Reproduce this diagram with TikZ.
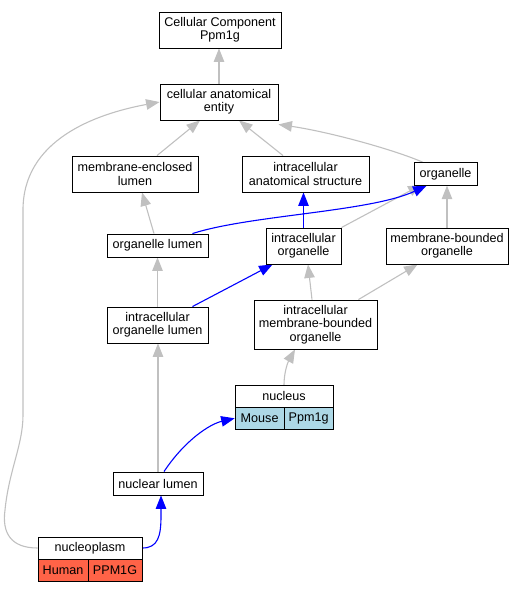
\documentclass[tikz,border=0pt]{standalone}
\usepackage{fontspec}
\setmainfont{Liberation Sans}
\usetikzlibrary{arrows.meta,calc}
\definecolor{edgegray}{HTML}{C0C0C0}
\definecolor{humanred}{HTML}{FF6347}
\definecolor{mouseblue}{HTML}{ADD8E6}
\tikzset{
  box/.style={draw=black, line width=0.85pt, fill=white, inner sep=0pt, align=center,
    font=\fontsize{12.6}{13.3}\selectfont},
  grayedge/.style={draw=edgegray, line width=1.1pt, -{Triangle[length=13.5pt,width=10.5pt]}},
  blueedge/.style={draw=blue, line width=1.1pt, -{Triangle[length=13.5pt,width=10.5pt]}},
}
\begin{document}
\begin{tikzpicture}[x=1pt,y=-1pt]
\useasboundingbox (0,0) rectangle (529,592);
% nodes (placed first for names, redrawn on top later)
\begin{scope}[every node/.style={box}]
\node[minimum width=122pt, minimum height=36pt] (ccp) at (220,30) {Cellular Component\\Ppm1g};
\node[minimum width=118pt, minimum height=36pt] (cae) at (219,102) {cellular anatomical\\entity};
\node[minimum width=126pt, minimum height=36pt] (mel) at (135,174) {membrane-enclosed\\lumen};
\node[minimum width=127pt, minimum height=36pt] (ias) at (305.5,174) {intracellular\\anatomical structure};
\node[minimum width=63pt, minimum height=22.5pt] (org) at (445.5,174) {organelle};
\node[minimum width=101pt, minimum height=23pt] (ol) at (157.5,245.5) {organelle lumen};
\node[minimum width=75pt, minimum height=36pt] (io) at (303.5,246) {intracellular\\organelle};
\node[minimum width=122pt, minimum height=36pt] (mbo) at (447,246) {membrane-bounded\\organelle};
\node[minimum width=101pt, minimum height=36pt] (iol) at (157.5,325) {intracellular\\organelle lumen};
\node[minimum width=123pt, minimum height=49pt] (imbo) at (315.5,324.5) {intracellular\\membrane-bounded\\organelle};
\node[minimum width=98pt, minimum height=22pt] (nuc) at (284,396.3) {nucleus};
\node[minimum width=49pt, minimum height=22pt, fill=mouseblue] (mouse) at (259.6,418.3) {Mouse};
\node[minimum width=49pt, minimum height=22pt, fill=mouseblue] (mppm) at (308.6,418.3) {Ppm1g};
\node[minimum width=90pt, minimum height=23pt] (nl) at (158,483.5) {nuclear lumen};
\node[minimum width=104pt, minimum height=22pt] (npl) at (90,548) {nucleoplasm};
\node[minimum width=50pt, minimum height=22pt, fill=humanred] (human) at (63,570) {Human};
\node[minimum width=54pt, minimum height=22pt, fill=humanred] (hppm) at (115,570) {PPM1G};
\end{scope}
% gray edges
\draw[grayedge] (cae.north) -- (cae.north |- ccp.south);
\draw[grayedge] ([xshift=22pt]mel.north) -- ([xshift=-19pt]cae.south);
\draw[grayedge] ([xshift=-22.5pt]ias.north) -- ([xshift=20pt]cae.south);
\draw[grayedge] ([xshift=-22.5pt]org.north) .. controls (395,150) and (330,132) .. ([yshift=-4pt]cae.south east);
\draw[grayedge] (npl.west) .. controls (10,548) and (2,532) .. (5,510)
   .. controls (9,470) and (23,445) .. (23,415) -- (23,210)
   .. controls (23,140) and (95,114) .. (cae.west);
\draw[grayedge] ([xshift=-3.5pt]ol.north) -- ([xshift=7pt]mel.south);
\draw[grayedge] (io.north east) -- ([xshift=8pt,yshift=1pt]org.south west);
\draw[grayedge] (mbo.north) -- (mbo.north |- org.south);
\draw[grayedge] (iol.north) -- (ol.south);
\draw[grayedge] ([xshift=-3.5pt]imbo.north) -- ([xshift=4.5pt]io.south);
\draw[grayedge] ([xshift=-19pt]imbo.north east) -- ([xshift=32pt]mbo.south west);
\draw[grayedge] (nuc.north) .. controls (284,372) and (288,362) .. ([xshift=-20.5pt]imbo.south);
\draw[grayedge] (nl.north) -- (nl.north |- iol.south);
% blue edges
\draw[blueedge] ([xshift=-16pt]ol.north east) .. controls (250,215) and (370,212) .. ([xshift=13pt]org.south west);
\draw[blueedge] (io.north) -- (io.north |- ias.south);
\draw[blueedge] ([xshift=-16pt]iol.north east) -- ([xshift=7pt]io.south west);
\draw[blueedge] ([xshift=6pt]nl.north) .. controls (185,440) and (210,424) .. (mouse.west);
\draw[blueedge] (npl.east) .. controls (158,548) and (161,536) .. (161,516) -- ([xshift=3pt]nl.south);
% redraw nodes on top
\begin{scope}[every node/.style={box}]
\node[minimum width=122pt, minimum height=36pt] at (220,30) {Cellular Component\\Ppm1g};
\node[minimum width=118pt, minimum height=36pt] at (219,102) {cellular anatomical\\entity};
\node[minimum width=126pt, minimum height=36pt] at (135,174) {membrane-enclosed\\lumen};
\node[minimum width=127pt, minimum height=36pt] at (305.5,174) {intracellular\\anatomical structure};
\node[minimum width=63pt, minimum height=22.5pt] at (445.5,174) {organelle};
\node[minimum width=101pt, minimum height=23pt] at (157.5,245.5) {organelle lumen};
\node[minimum width=75pt, minimum height=36pt] at (303.5,246) {intracellular\\organelle};
\node[minimum width=122pt, minimum height=36pt] at (447,246) {membrane-bounded\\organelle};
\node[minimum width=101pt, minimum height=36pt] at (157.5,325) {intracellular\\organelle lumen};
\node[minimum width=123pt, minimum height=49pt] at (315.5,324.5) {intracellular\\membrane-bounded\\organelle};
\node[minimum width=98pt, minimum height=22pt] at (284,396.3) {nucleus};
\node[minimum width=49pt, minimum height=22pt, fill=mouseblue] at (259.6,418.3) {Mouse};
\node[minimum width=49pt, minimum height=22pt, fill=mouseblue] at (308.6,418.3) {Ppm1g};
\node[minimum width=90pt, minimum height=23pt] at (158,483.5) {nuclear lumen};
\node[minimum width=104pt, minimum height=22pt] at (90,548) {nucleoplasm};
\node[minimum width=50pt, minimum height=22pt, fill=humanred] at (63,570) {Human};
\node[minimum width=54pt, minimum height=22pt, fill=humanred] at (115,570) {PPM1G};
\end{scope}
\end{tikzpicture}
\end{document}
